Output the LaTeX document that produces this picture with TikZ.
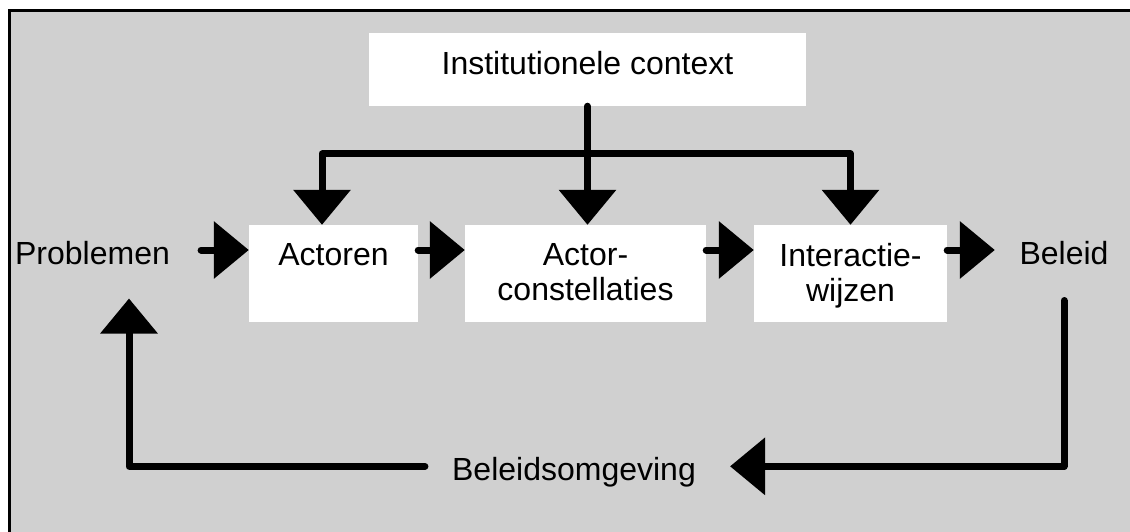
\documentclass[tikz,border=0pt]{standalone}
\usepackage{fontspec}
\setmainfont{Liberation Sans}
\usetikzlibrary{arrows.meta}
\definecolor{achtergrond}{RGB}{208,208,208}

\begin{document}
\begin{tikzpicture}[x=1pt, y=-1pt, >={Triangle[width=56pt,length=35pt]},
        every node/.style={font=\fontsize{32}{35}\selectfont},
        blok/.style={fill=white, inner sep=0pt, minimum height=97pt},
        tekst/.style={anchor=north, align=center, inner xsep=0pt, inner ysep=18pt},
        woord/.style={inner sep=0pt, anchor=base},
        pijl/.style={line width=7pt, line cap=round, line join=round, ->}]
        \useasboundingbox (0,0) rectangle (1130,532);
        \clip (0,0) rectangle (1130,532);
        \draw[line width=2.7pt, fill=achtergrond] (9.7,10.7) rectangle (1200,600);

        \node[blok, minimum width=437pt, minimum height=73pt, label={[tekst]north:Institutionele context}] (ctx) at (587.5,69.5) {};
        \node[blok, minimum width=169pt, label={[tekst]north:Actoren}] (act) at (333.5,273.5) {};
        \node[blok, minimum width=241pt, label={[tekst]north:Actor-\\constellaties}] (con) at (585.5,273.5) {};
        \node[blok, minimum width=193pt, label={[tekst]north:Interactie-\\wijzen}] (int) at (850.5,273.5) {};

        \node[woord] (prob) at (92.5,264) {Problemen};
        \node[woord] (bel) at (1064,264) {Beleid};
        \node[woord] (omg) at (574,480) {Beleidsomgeving};

        \coordinate (rij) at (0,250);
        \coordinate (tak) at (587,154);

        % institutionele context naar de drie blokken
        \draw[pijl] (ctx.south) -- (ctx.south |- con.north);
        \draw[pijl] (tak) -| ([xshift=-11.5pt]act.north);
        \draw[pijl] (tak) -| (int.north);

        % de keten
        \draw[pijl, shorten <=31pt] (prob.east |- rij) -- (act.west |- rij);
        \draw[pijl] (act.east |- rij) -- (con.west |- rij);
        \draw[pijl] (con.east |- rij) -- (int.west |- rij);
        \draw[pijl, shorten >=24.5pt] (int.east |- rij) -- (bel.west |- rij);

        % terugkoppeling
        \draw[pijl, shorten <=36pt, shorten >=34pt] (bel.south) |- ([yshift=5.4pt]omg.east);
        \draw[pijl, shorten <=27pt, shorten >=34pt] ([yshift=5.4pt]omg.west) -| ([xshift=36.5pt]prob.south);
\end{tikzpicture}
\end{document}
